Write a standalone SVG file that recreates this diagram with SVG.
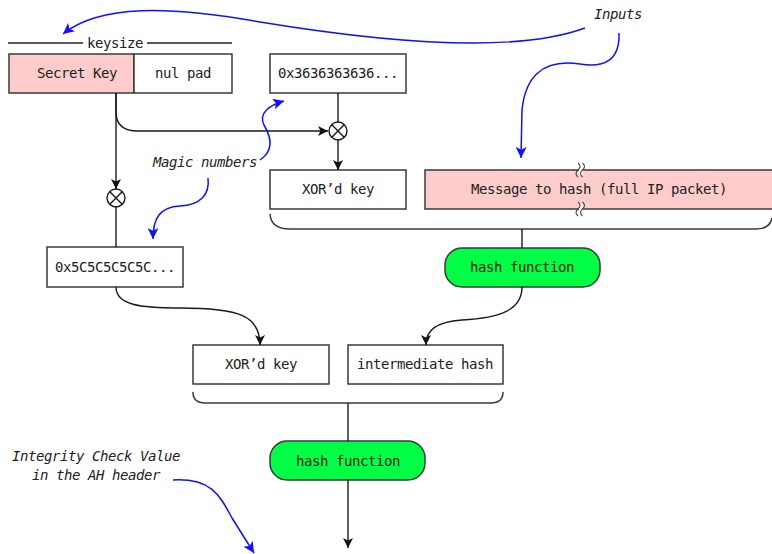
<svg xmlns="http://www.w3.org/2000/svg" width="772" height="554" viewBox="0 0 772 554">
  <defs>
    <style>
      .box { fill: #ffffff; stroke: #3a3a3a; stroke-width: 1.5; }
      .key { fill: #ffcccc; }
      .hash { fill: #00ff44; stroke: #3a3a3a; stroke-width: 1.5; }
      .t { font-family: "DejaVu Sans Mono", "Liberation Mono", monospace; font-size: 14px; letter-spacing: -0.43px; fill: #222; text-anchor: middle; }
      .note { font-style: italic; }
      .wire { fill: none; stroke: #1a1a1a; stroke-width: 1.4; }
      .brace { fill: none; stroke: #3a3a3a; stroke-width: 1.5; }
      .hint { fill: none; stroke: #1010ff; stroke-width: 1.5; }
      .xor { fill: #ffffff; stroke: #1a1a1a; stroke-width: 1.4; }
      .wave { fill: none; stroke: #444; stroke-width: 1.1; }
    </style>
    <marker id="ah" viewBox="0 0 10 10" refX="10" refY="5" markerWidth="10" markerHeight="10" markerUnits="userSpaceOnUse" orient="auto">
      <path d="M0,0 L10,5 L0,10 L2.5,5 Z" fill="#111"/>
    </marker>
    <marker id="bh" viewBox="0 0 10 10" refX="10" refY="5" markerWidth="11" markerHeight="11" markerUnits="userSpaceOnUse" orient="auto">
      <path d="M0,0 L10,5 L0,10 L2.5,5 Z" fill="#1010ff"/>
    </marker>
  </defs>

  <!-- key size ruler -->
  <g id="keysize">
    <line x1="8" y1="43" x2="83" y2="43" stroke="#222" stroke-width="1.3"/>
    <line x1="147" y1="43" x2="232" y2="43" stroke="#222" stroke-width="1.3"/>
    <text class="t" x="115" y="48">keysize</text>
  </g>

  <!-- key material -->
  <g id="secret-key">
    <rect class="box key" x="9" y="54" width="125" height="39"/>
    <text class="t" x="77" y="78">Secret Key</text>
  </g>
  <g id="nul-pad">
    <rect class="box" x="134" y="54" width="98" height="39"/>
    <text class="t" x="183" y="78">nul pad</text>
  </g>
  <g id="ipad">
    <rect class="box" x="270" y="54" width="136" height="39"/>
    <text class="t" x="338" y="78">0x3636363636...</text>
  </g>
  <g id="opad">
    <rect class="box" x="47" y="247" width="136" height="40"/>
    <text class="t" x="115" y="272">0x5C5C5C5C5C...</text>
  </g>

  <!-- inner hash inputs -->
  <g id="inner-key">
    <rect class="box" x="270" y="170" width="136" height="39"/>
    <text class="t" x="338" y="194">XOR’d key</text>
  </g>
  <g id="message">
    <rect class="box key" x="425" y="170" width="360" height="39"/>
    <text class="t" x="599" y="194">Message to hash (full IP packet)</text>
    <!-- break marks -->
    <rect x="579" y="166" width="4" height="9" fill="#ffffff"/>
    <path class="wave" d="M578,163 q4,3.5 0,7 t0,7"/>
    <path class="wave" d="M582.5,163 q4,3.5 0,7 t0,7"/>
    <rect x="579" y="204" width="4" height="10" fill="#ffffff"/>
    <path class="wave" d="M578,202 q4,3.5 0,7 t0,7"/>
    <path class="wave" d="M582.5,202 q4,3.5 0,7 t0,7"/>
  </g>

  <g id="inner-hash">
    <rect class="hash" x="445" y="248" width="155" height="39" rx="17"/>
    <text class="t" x="522" y="272">hash function</text>
  </g>

  <!-- outer hash inputs -->
  <g id="outer-key">
    <rect class="box" x="193" y="345" width="136" height="39"/>
    <text class="t" x="261" y="369">XOR’d key</text>
  </g>
  <g id="intermediate">
    <rect class="box" x="348" y="345" width="155" height="39"/>
    <text class="t" x="425" y="369">intermediate hash</text>
  </g>

  <g id="outer-hash">
    <rect class="hash" x="270" y="441" width="155" height="39" rx="17"/>
    <text class="t" x="348" y="466">hash function</text>
  </g>

  <!-- XOR operators -->
  <g id="xor-inner">
    <circle class="xor" cx="338" cy="131" r="9"/>
    <path class="wire" d="M331.6,124.6 L344.4,137.4 M344.4,124.6 L331.6,137.4"/>
  </g>
  <g id="xor-outer">
    <circle class="xor" cx="116" cy="198" r="9"/>
    <path class="wire" d="M109.6,191.6 L122.4,204.4 M122.4,191.6 L109.6,204.4"/>
  </g>

  <!-- data flow -->
  <g id="connectors">
    <path class="wire" d="M116,93 L116,112 Q116,131 138,131 L328,131" marker-end="url(#ah)"/>
    <path class="wire" d="M338,93 L338,122"/>
    <path class="wire" d="M338,140 L338,170" marker-end="url(#ah)"/>
    <path class="wire" d="M116,93 L116,189" marker-end="url(#ah)"/>
    <path class="wire" d="M116,207 L116,247"/>
    <path class="brace" d="M270,214 Q271,229 290,229 L756,229 Q770,229 772,218"/>
    <path class="wire" d="M522,229 L522,248"/>
    <path class="wire" d="M116,287 C116,305 140,308 180,308 C240,308 260,316 260,345" marker-end="url(#ah)"/>
    <path class="wire" d="M522,287 C522,310 500,318 462,320 C436,322 426,330 426,345" marker-end="url(#ah)"/>
    <path class="brace" d="M193,392 Q193,403 205,403 L491,403 Q503,403 503,392"/>
    <path class="wire" d="M348,403 L348,441"/>
    <path class="wire" d="M348,480 L348,548" marker-end="url(#ah)"/>
  </g>

  <!-- annotations -->
  <g id="inputs-note">
    <text class="t note" x="618" y="19">Inputs</text>
    <path class="hint" d="M585,28 C520,52 400,45 260,22 C170,6 100,4 63,34" marker-end="url(#bh)"/>
    <path class="hint" d="M619,33 C620,60 605,68 580,64 C540,58 525,80 522,110 L521,158" marker-end="url(#bh)"/>
  </g>
  <g id="magic-note">
    <text class="t note" x="205" y="167">Magic numbers</text>
    <path class="hint" d="M260,160 C275,150 270,135 264,125 C258,113 270,105 284,101" marker-end="url(#bh)"/>
    <path class="hint" d="M208,178 C210,195 200,205 180,206 C160,207 153,218 153,239" marker-end="url(#bh)"/>
  </g>
  <g id="icv-note">
    <text class="t note" x="96" y="461">Integrity Check Value</text>
    <text class="t note" x="96" y="480">in the AH header</text>
    <path class="hint" d="M173,480 C212,478 220,496 232,518 L254,553" marker-end="url(#bh)"/>
  </g>
</svg>
